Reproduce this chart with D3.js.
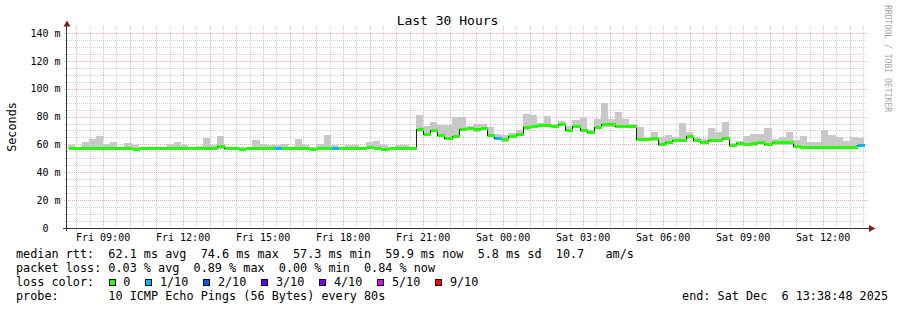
<!DOCTYPE html>
<html>
<head>
<meta charset="utf-8">
<script src="https://cdnjs.cloudflare.com/ajax/libs/d3/7.8.5/d3.min.js"></script>
<style>
    body { margin: 0; background: #fff; }
    svg text { font-family: "DejaVu Sans Mono", monospace; fill: #000; }
</style>
</head>
<body>
<svg id="chart" width="897" height="310"></svg>
<script>
// graph window and rrd step (16 min consolidation)
var title = "Last 30 Hours"
    , yText = "Seconds"
    , startTime = new Date(2025, 11, 5, 7, 38, 48)
    , endTime = new Date(2025, 11, 6, 13, 38, 48)
    , firstStep = new Date(2025, 11, 5, 7, 40)
    , stepMinutes = 16
    , yMax = 145
    , yTicks = [0, 20, 40, 60, 80, 100, 120, 140]
    , yUnit = "m"
    ;

// median rtt per step, ms
var medians = [
    57.4, 57.4, 57.4, 57.4, 57.4, 57.4, 57.4, 57.4, 57.4, 57.0,
    57.4, 57.4, 57.2, 57.4, 57.4, 57.4, 57.4, 57.4, 57.4, 57.4,
    57.4, 58.8, 57.6, 57.1, 57.0, 57.2, 57.4, 57.4, 57.4, 57.4,
    57.4, 57.4, 57.4, 57.4, 57.0, 57.4, 57.4, 57.4, 57.4, 57.4,
    57.4, 57.4, 58.3, 57.3, 57.0, 57.3, 57.3, 57.3, 57.3, 70.8,
    67.5, 70.7, 67.0, 64.7, 66.3, 71.4, 71.8, 71.3, 71.8, 66.8,
    64.6, 64.1, 65.8, 67.8, 72.2, 73.5, 74.2, 73.8, 73.2, 74.5,
    70.4, 73.4, 70.6, 68.9, 72.4, 74.7, 74.4, 73.0, 73.0, 73.0,
    64.0, 64.0, 64.3, 60.5, 61.9, 63.2, 63.5, 65.7, 62.9, 61.9,
    63.2, 63.0, 64.6, 59.6, 60.7, 60.6, 60.7, 61.7, 60.3, 61.4,
    61.4, 61.4, 59.2, 58.4, 58.4, 58.2, 58.4, 58.4, 58.4, 58.4,
    58.4, 59.8
];

// smoke upper edge, ms
var smokeHi = [
    59.6, 58.2, 61.7, 63.9, 66.0, 60.3, 61.7, 58.2, 61.0, 59.6,
    58.0, 58.0, 58.5, 58.2, 60.3, 61.7, 59.6, 58.0, 59.0, 64.8,
    59.6, 66.0, 58.2, 58.5, 58.0, 58.0, 63.2, 60.3, 59.6, 59.6,
    60.3, 58.2, 63.9, 59.6, 58.0, 60.3, 66.8, 59.6, 58.2, 59.6,
    59.6, 58.2, 61.7, 62.4, 59.6, 58.2, 59.6, 59.6, 58.2, 81.1,
    73.2, 76.3, 74.0, 74.0, 79.5, 79.5, 73.5, 74.4, 74.6, 72.7,
    67.5, 66.8, 68.4, 70.4, 81.8, 81.1, 75.6, 80.4, 74.7, 76.6,
    73.2, 77.5, 79.2, 70.5, 78.0, 90.0, 78.0, 83.5, 78.0, 74.7,
    72.7, 65.5, 69.1, 65.6, 66.8, 65.6, 75.6, 69.1, 65.0, 64.0,
    72.0, 68.7, 76.3, 61.0, 62.4, 66.0, 67.5, 67.5, 72.0, 63.7,
    65.1, 69.1, 63.2, 66.0, 62.0, 62.0, 70.4, 66.8, 65.6, 62.4,
    65.1, 64.8
];

// smoke lower edge, ms
var smokeLo = [
    56.6, 56.6, 56.6, 56.6, 56.6, 56.6, 56.6, 56.6, 56.6, 56.3,
    56.6, 56.6, 56.4, 56.6, 56.6, 56.6, 56.6, 56.6, 56.6, 56.6,
    56.6, 56.5, 56.8, 56.3, 56.3, 56.4, 56.6, 56.6, 56.6, 56.6,
    56.6, 56.6, 56.6, 56.6, 56.3, 56.6, 56.6, 56.6, 56.6, 56.6,
    56.6, 56.6, 57.0, 56.5, 56.3, 56.5, 56.5, 56.5, 56.5, 69.0,
    66.0, 69.3, 65.5, 63.2, 64.8, 70.0, 70.0, 69.1, 70.3, 65.2,
    63.1, 62.0, 64.3, 66.3, 70.7, 72.0, 72.6, 72.3, 71.7, 72.9,
    68.9, 71.9, 69.0, 67.4, 70.9, 72.8, 72.6, 71.5, 71.5, 71.5,
    62.5, 62.5, 62.8, 59.0, 60.4, 61.7, 62.0, 64.2, 61.4, 60.4,
    61.7, 61.5, 63.1, 58.1, 59.2, 59.1, 59.2, 60.2, 58.8, 59.9,
    59.9, 59.9, 57.7, 57.0, 57.0, 56.8, 57.0, 57.0, 57.0, 57.0,
    57.0, 58.3
];

// lost pings out of 10 per step
var lossTenths = [
    0, 0, 0, 0, 0, 0, 0, 0, 0, 0,
    0, 0, 0, 0, 0, 0, 0, 0, 0, 0,
    0, 0, 0, 0, 0, 0, 0, 0, 0, 1,
    0, 0, 0, 0, 0, 0, 0, 1, 0, 0,
    0, 0, 0, 0, 0, 0, 0, 0, 0, 0,
    0, 0, 0, 0, 0, 0, 0, 0, 0, 0,
    1, 0, 0, 0, 0, 0, 0, 0, 0, 0,
    0, 0, 0, 0, 0, 0, 0, 0, 0, 0,
    0, 0, 0, 0, 0, 0, 0, 0, 0, 0,
    0, 0, 0, 0, 0, 0, 0, 0, 0, 0,
    0, 0, 0, 0, 0, 0, 0, 0, 0, 0,
    0, 1
];

var lossLabels = ["0", "1/10", "2/10", "3/10", "4/10", "5/10", "9/10"]
    , lossColors = ["#26ff00", "#00b8ff", "#0059ff", "#5e00ff", "#7e00ff", "#dd00ff", "#ff0000"]
    ;

var legendRows = [
    "median rtt:  62.1 ms avg  74.6 ms max  57.3 ms min  59.9 ms now  5.8 ms sd  10.7   am/s",
    "packet loss: 0.03 % avg  0.89 % max  0.00 % min  0.84 % now",
    "loss color:",
    "probe:       10 ICMP Echo Pings (56 Bytes) every 80s"
];
var endText = "end: Sat Dec  6 13:38:48 2025"
    , watermark = "RRDTOOL / TOBI OETIKER"
    ;

var svg = d3.select("#chart")
    , plotLeft = 67
    , plotRight = 867
    , plotTop = 26
    , plotBottom = 228
    , gridColor = "#d2d2d2"
    , mgridColor = "#f2acac"
    , axisColor = "#2c3a36"
    , arrowColor = "#7f1f1f"
    ;

// keep runs of spaces in svg text
function keepSpaces(s) { return s.replace(/ /g, "\u00a0"); }

svg.append("rect").attr("width", 897).attr("height", 310).attr("fill", "#fff");

var x = d3.scaleTime().domain([startTime, endTime]).range([plotLeft, plotRight]);
var y = d3.scaleLinear().domain([0, yMax]).range([plotBottom, plotTop]);

var steps = medians.map(function(m, i) {
    var t0 = d3.timeMinute.offset(firstStep, i * stepMinutes);
    return {
        t0: t0,
        t1: d3.timeMinute.offset(t0, stepMinutes),
        median: m,
        hi: smokeHi[i],
        lo: smokeLo[i],
        loss: lossTenths[i]
    };
});

function lossColor(n) {
    if (n <= 0) return lossColors[0];
    if (n <= 5) return lossColors[n];
    return lossColors[6];
}

function px(v) { return Math.round(v) + 0.5; }

// ---- grid
var grid = svg.append("g").attr("shape-rendering", "crispEdges");

var minorX = d3.timeMinute.every(30).range(startTime, endTime)
        .filter(function(t) { return t.getMinutes() !== 0; })
    , majorX = d3.timeHour.range(startTime, endTime)
    , minorY = d3.range(5, 145, 5).filter(function(v) { return v % 20 !== 0; })
    , majorY = yTicks.filter(function(v) { return v > 0; })
    ;

grid.selectAll(".minx").data(minorX).enter().append("line")
    .attr("x1", function(d) { return px(x(d)); })
    .attr("x2", function(d) { return px(x(d)); })
    .attr("y1", plotTop).attr("y2", plotBottom + 2)
    .attr("stroke", gridColor).attr("stroke-dasharray", "1,1");

grid.selectAll(".miny").data(minorY).enter().append("line")
    .attr("x1", plotLeft - 2).attr("x2", plotRight)
    .attr("y1", function(d) { return px(y(d)); })
    .attr("y2", function(d) { return px(y(d)); })
    .attr("stroke", gridColor).attr("stroke-dasharray", "1,1");

grid.selectAll(".majx").data(majorX).enter().append("line")
    .attr("x1", function(d) { return px(x(d)); })
    .attr("x2", function(d) { return px(x(d)); })
    .attr("y1", plotTop).attr("y2", plotBottom + 3)
    .attr("stroke", mgridColor).attr("stroke-dasharray", "1,1");

grid.selectAll(".majy").data(majorY).enter().append("line")
    .attr("x1", plotLeft - 3).attr("x2", plotRight)
    .attr("y1", function(d) { return px(y(d)); })
    .attr("y2", function(d) { return px(y(d)); })
    .attr("stroke", mgridColor).attr("stroke-dasharray", "1,1");

// ---- data
svg.append("clipPath").attr("id", "plot-clip")
    .append("rect").attr("x", plotLeft).attr("y", plotTop)
    .attr("width", plotRight - plotLeft).attr("height", plotBottom - plotTop);

var plot = svg.append("g")
    .attr("clip-path", "url(#plot-clip)")
    .attr("shape-rendering", "crispEdges");

plot.selectAll(".smoke").data(steps).enter().append("rect")
    .attr("x", function(d) { return Math.round(x(d.t0)); })
    .attr("width", function(d) { return Math.round(x(d.t1)) - Math.round(x(d.t0)); })
    .attr("y", function(d) { return Math.round(y(d.hi)); })
    .attr("height", function(d) { return Math.max(1, Math.round(y(d.lo)) - Math.round(y(d.hi))); })
    .attr("fill", "#c8c8c8");

var medianLine = d3.line()
    .curve(d3.curveStepAfter)
    .x(function(d) { return Math.round(x(d[0])) + 0.5; })
    .y(function(d) { return px(y(d[1])); });

var linePts = steps.map(function(d) { return [d.t0, d.median]; });
linePts.push([steps[steps.length - 1].t1, steps[steps.length - 1].median]);

plot.append("path")
    .attr("d", medianLine(linePts))
    .attr("fill", "none")
    .attr("stroke", "#202020")
    .attr("stroke-width", 1);

plot.selectAll(".med").data(steps).enter().append("rect")
    .attr("x", function(d) { return Math.round(x(d.t0)) + 1; })
    .attr("width", function(d) { return Math.round(x(d.t1)) - Math.round(x(d.t0)); })
    .attr("y", function(d) { return Math.round(y(d.median)) - 1; })
    .attr("height", 3)
    .attr("fill", function(d) { return lossColor(d.loss); });

// ---- axes
var axes = svg.append("g").attr("shape-rendering", "crispEdges");

axes.append("line")
    .attr("x1", plotLeft - 0.5).attr("x2", plotLeft - 0.5)
    .attr("y1", plotBottom + 3).attr("y2", plotTop - 1)
    .attr("stroke", axisColor);

axes.append("line")
    .attr("x1", plotLeft - 4).attr("x2", plotRight + 2)
    .attr("y1", plotBottom + 0.5).attr("y2", plotBottom + 0.5)
    .attr("stroke", axisColor);

svg.append("path")
    .attr("d", "M63.5,26.5L70.5,26.5L67,20.5Z")
    .attr("fill", arrowColor);

svg.append("path")
    .attr("d", "M869,225L869,232L875.5,228.5Z")
    .attr("fill", arrowColor);

// y labels
var yLab = svg.append("g").attr("font-size", "10px");

yLab.selectAll(".yn").data(yTicks).enter().append("text")
    .attr("x", 48.5)
    .attr("y", function(d) { return y(d) + 3.7; })
    .attr("text-anchor", "end")
    .text(function(d) { return d; });

yLab.selectAll(".yu").data(majorY).enter().append("text")
    .attr("x", 54.5)
    .attr("y", function(d) { return y(d) + 3.7; })
    .text(yUnit);

svg.append("text")
    .attr("transform", "translate(16,127) rotate(-90)")
    .attr("text-anchor", "middle")
    .attr("font-size", "11.8px")
    .text(yText);

// x labels
var fmt = d3.timeFormat("%a %H:%M");
svg.append("g").attr("font-size", "10px")
    .selectAll("text")
    .data(d3.timeHour.every(3).range(startTime, endTime))
    .enter().append("text")
    .attr("x", function(d) { return x(d); })
    .attr("y", 240.5)
    .attr("text-anchor", "middle")
    .text(function(d) { return keepSpaces(fmt(d)); });

// title
svg.append("text")
    .attr("x", 447.5)
    .attr("y", 24.5)
    .attr("text-anchor", "middle")
    .attr("font-size", "13px")
    .text(title);

// watermark
svg.append("text")
    .attr("transform", "translate(885,5) rotate(90)")
    .attr("font-size", "8.1px")
    .style("fill", "#a8a8a8")
    .text(keepSpaces(watermark));

// ---- legend
var legend = svg.append("g").attr("font-size", "11.8px");

legend.selectAll(".row").data(legendRows).enter().append("text")
    .attr("x", 16)
    .attr("y", function(d, i) { return 258 + i * 14; })
    .text(function(d) { return keepSpaces(d); });

var charW = 7.1
    , bx = 108.5
    ;
lossLabels.forEach(function(lab, i) {
    legend.append("rect")
        .attr("x", Math.round(bx) + 0.5).attr("y", 279.5)
        .attr("width", 6).attr("height", 6)
        .attr("fill", lossColors[i])
        .attr("stroke", "#000")
        .attr("shape-rendering", "crispEdges");
    legend.append("text")
        .attr("x", bx + 14.7)
        .attr("y", 286)
        .text(lab);
    bx = bx + 14.7 + lab.length * charW + 14.9;
});

legend.append("text")
    .attr("x", 888)
    .attr("y", 300)
    .attr("text-anchor", "end")
    .text(keepSpaces(endText));
</script>
</body>
</html>
